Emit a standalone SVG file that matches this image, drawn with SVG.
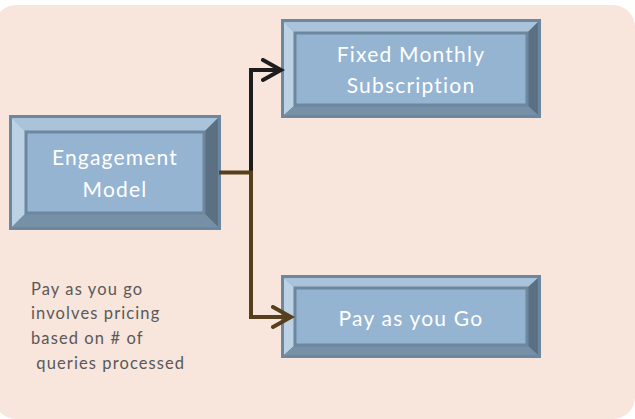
<svg xmlns="http://www.w3.org/2000/svg" width="635" height="419" viewBox="0 0 635 419">
<defs>
<style>
.face{fill:#95b4d1}
.outer{fill:#6f8aa1}
.bt{fill:#aac3db}
.bl{fill:#bdd1e4}
.br{fill:#5c7083}
.bb{fill:#7690a7}
.edge{fill:none;stroke:#6c879e;stroke-width:3}
.lbl{font-family:"Lato","Liberation Sans",sans-serif;font-size:21px;fill:#ffffff;text-anchor:middle;letter-spacing:1.2px}
.note{font-family:"Lato","Liberation Sans",sans-serif;font-size:16.5px;fill:#595959;letter-spacing:1.1px}
.conn{fill:none;stroke-width:4;stroke-linejoin:miter}
</style>
<marker id="ahK" markerWidth="24" markerHeight="26" refX="20" refY="12" orient="auto" markerUnits="userSpaceOnUse"><path d="M2,2 L20,12 L2,22" fill="none" stroke="#1d1d1d" stroke-width="4" stroke-linecap="round"/></marker>
<marker id="ahB" markerWidth="24" markerHeight="26" refX="20" refY="12" orient="auto" markerUnits="userSpaceOnUse"><path d="M2,2 L20,12 L2,22" fill="none" stroke="#553f1c" stroke-width="4" stroke-linecap="round"/></marker>
</defs>
<rect x="-6" y="5" width="641" height="414" rx="22" fill="#f8e5db"/>
<g id="engagement-model">
<rect class="outer" x="9" y="115" width="212" height="115" rx="2"/>
<polygon class="bt" points="11,117 219,117 204,132 26,132"/>
<polygon class="bl" points="11,117 26,132 26,213 11,228"/>
<polygon class="br" points="219,117 219,228 204,213 204,132"/>
<polygon class="bb" points="11,228 26,213 204,213 219,228"/>
<rect class="face" x="26" y="132" width="178" height="81"/>
<rect class="edge" x="26" y="132" width="178" height="81"/>
<rect class="edge" x="10.5" y="116.5" width="209" height="112"/>
<text class="lbl" x="115" y="165">Engagement</text>
<text class="lbl" x="115" y="197">Model</text>
</g>
<g id="fixed-monthly">
<rect class="outer" x="281" y="19" width="260" height="99" rx="2"/>
<polygon class="bt" points="283,21 539,21 527,33 295,33"/>
<polygon class="bl" points="283,21 295,33 295,105 283,116"/>
<polygon class="br" points="539,21 539,116 527,105 527,33"/>
<polygon class="bb" points="283,116 295,105 527,105 539,116"/>
<rect class="face" x="295" y="33" width="232" height="72"/>
<rect class="edge" x="295" y="33" width="232" height="72"/>
<rect class="edge" x="282.5" y="20.5" width="257" height="96"/>
<text class="lbl" x="411" y="62">Fixed Monthly</text>
<text class="lbl" x="411" y="93">Subscription</text>
</g>
<g id="pay-as-you-go">
<rect class="outer" x="281" y="275" width="260" height="83" rx="2"/>
<polygon class="bt" points="283,277 539,277 527,288 295,288"/>
<polygon class="bl" points="283,277 295,288 295,345 283,356"/>
<polygon class="br" points="539,277 539,356 527,345 527,288"/>
<polygon class="bb" points="283,356 295,345 527,345 539,356"/>
<rect class="face" x="295" y="288" width="232" height="57"/>
<rect class="edge" x="295" y="288" width="232" height="57"/>
<rect class="edge" x="282.5" y="276.5" width="257" height="80"/>
<text class="lbl" x="411" y="326">Pay as you Go</text>
</g>
<g id="connectors">
<path class="conn" d="M251,172 L251,70 L281,70" stroke="#1d1d1d" marker-end="url(#ahK)"/>
<path class="conn" d="M219,172.5 L251,172.5 L251,317 L291,317" stroke="#553f1c" marker-end="url(#ahB)"/>
</g>
<g id="note">
<text class="note" x="31" y="295">Pay as you go</text>
<text class="note" x="31" y="319">involves pricing</text>
<text class="note" x="31" y="344">based on # of</text>
<text class="note" x="31" y="369" xml:space="preserve"> queries processed</text>
</g>
</svg>
